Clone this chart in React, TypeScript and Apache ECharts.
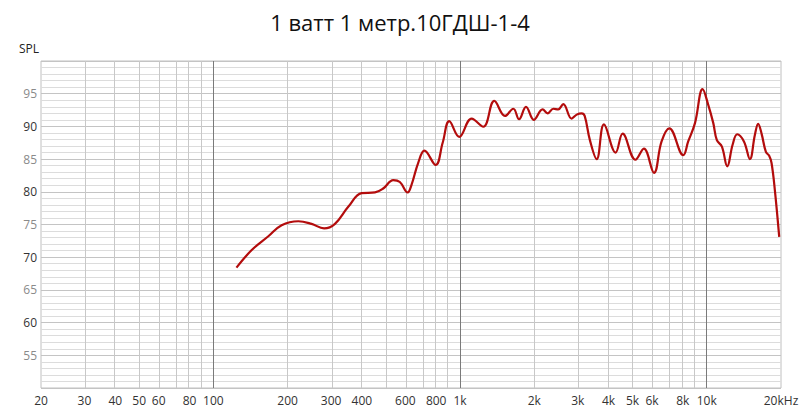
import React, { useEffect, useRef } from "react";
import * as echarts from "echarts";

const TITLE = "1 ватт 1 метр.10ГДШ-1-4";

const freqs = [
  124, 143, 167, 189, 221, 250, 281, 311, 352, 399, 452, 488, 536, 570, 613, 636, 676, 717, 796, 850,
  904, 992, 1114, 1242, 1376, 1521, 1644, 1734, 1850, 1990, 2160, 2265, 2387, 2500, 2620, 2832, 2970,
  3110, 3200, 3360, 3580, 3830, 4272, 4560, 5140, 5560, 6110, 6560, 7050, 8030, 8410, 8960, 9620,
  10140, 10630, 10990, 11520, 12110, 12730, 13290, 14150, 14960, 15670, 16160, 16680, 17370, 17910,
  18310, 18880, 19670,
];
const spl = [
  68.4, 71.1, 73.2, 74.9, 75.5, 75.1, 74.4, 75.1, 77.7, 79.8, 79.9, 80.5, 81.8, 81.5, 79.9, 81.1, 84.4,
  86.3, 84.1, 87.5, 90.8, 88.4, 91.2, 89.95, 93.9, 91.6, 92.7, 91.1, 93.0, 91.0, 92.6, 92.0, 92.7, 92.6,
  93.4, 91.2, 91.8, 92.0, 91.6, 87.9, 85.0, 90.3, 86.0, 88.9, 84.9, 86.6, 82.9, 87.7, 89.7, 85.6, 87.7,
  90.5, 95.7, 93.3, 90.5, 87.9, 86.9, 83.9, 87.2, 88.8, 87.7, 85.0, 88.7, 90.4, 88.9, 86.1, 85.5, 84.4,
  80.3, 73.1,
];

const xLabelFreqs = [20, 30, 40, 50, 60, 80, 100, 200, 300, 400, 600, 800, 1000, 2000, 3000, 4000, 5000, 6000, 8000, 10000, 20000];
const xLabelTexts = ["20", "30", "40", "50", "60", "80", "100", "200", "300", "400", "600", "800", "1k", "2k", "3k", "4k", "5k", "6k", "8k", "10k", "20kHz"];
const minorGridFreqs = [
  30, 40, 50, 60, 70, 80, 90, 200, 300, 400, 500, 600, 700, 800, 900, 2000, 3000, 4000, 5000, 6000, 7000, 8000, 9000,
];
const majorGridFreqs = [100, 1000, 10000];

const X_MIN = 20;
const X_MAX = 20000;
const Y_MIN = 50;
const Y_MAX = 100;
const Y_STEP = 5;

const FONT = "'Open Sans', 'Noto Sans', sans-serif";

export default function App() {
  const ref = useRef<HTMLDivElement>(null);
  useEffect(() => {
    document.body.style.margin = "0";
    if (!ref.current) return;
    const chart = echarts.init(ref.current, undefined, { renderer: "svg" });
    const lg = (f: number) => Math.log10(f);
    const labelLogs = xLabelFreqs.map(lg);
    const option: any = {
      animation: false,
      backgroundColor: "#ffffff",
      textStyle: { fontFamily: FONT },
      title: {
        text: TITLE,
        left: "center",
        top: 6,
        textStyle: { fontFamily: FONT, fontSize: 22, fontWeight: "normal", color: "#111" },
      },
      graphic: [
        {
          type: "text",
          left: 19,
          top: 42,
          style: { text: "SPL", fontFamily: FONT, fontSize: 12, fill: "#222" },
        },
      ],
      grid: {
        left: 41,
        right: 19,
        top: 61,
        bottom: 24,
        show: true,
        borderColor: "#c0c0c0",
        borderWidth: 1,
        outerBoundsMode: "none",
        containLabel: false,
      },
      xAxis: {
        type: "value",
        min: lg(X_MIN),
        max: lg(X_MAX),
        axisLine: { show: false },
        axisTick: { show: false, customValues: labelLogs },
        splitLine: { show: false },
        axisLabel: {
          customValues: labelLogs,
          margin: 6,
          fontSize: 12,
          fontFamily: FONT,
          color: "#333",
          formatter: (v: number) => {
            let best = 0;
            let bd = Infinity;
            labelLogs.forEach((l, i) => {
              const d = Math.abs(l - v);
              if (d < bd) {
                bd = d;
                best = i;
              }
            });
            return xLabelTexts[best];
          },
        },
      },
      yAxis: {
        type: "value",
        min: Y_MIN,
        max: Y_MAX,
        interval: Y_STEP,
        axisLine: { show: false },
        axisTick: { show: false },
        axisLabel: {
          showMinLabel: false,
          showMaxLabel: false,
          margin: 4,
          fontSize: 12,
          fontFamily: FONT,
          color: (v: any) => (Math.round(Number(v)) % 10 === 0 ? "#333" : "#8a8a8a"),
        },
        splitLine: { show: true, lineStyle: { color: "#c4c4c4", width: 1 } },
        minorTick: { show: false, splitNumber: 5 },
        minorSplitLine: { show: true, lineStyle: { color: "#dcdcdc", width: 1 } },
      },
      series: [
        {
          type: "line",
          name: "grid",
          data: [],
          silent: true,
          z: 1,
          markLine: {
            silent: true,
            symbol: ["none", "none"],
            label: { show: false },
            animation: false,
            data: [
              ...minorGridFreqs.map((f) => ({ xAxis: lg(f), lineStyle: { color: "#c8c8c8", width: 1, type: "solid" } })),
              ...majorGridFreqs.map((f) => ({ xAxis: lg(f), lineStyle: { color: "#7a7a7a", width: 1, type: "solid" } })),
            ],
          },
        },
        {
          type: "line",
          name: "SPL",
          z: 5,
          data: freqs.map((f, i) => [lg(f), spl[i]]),
          smooth: 0.4,
          showSymbol: false,
          symbol: "none",
          lineStyle: { color: "#b30c0c", width: 2.2 },
        },
      ],
    };
    chart.setOption(option);
    return () => chart.dispose();
  }, []);
  return <div ref={ref} style={{ width: 800, height: 412 }} />;
}
